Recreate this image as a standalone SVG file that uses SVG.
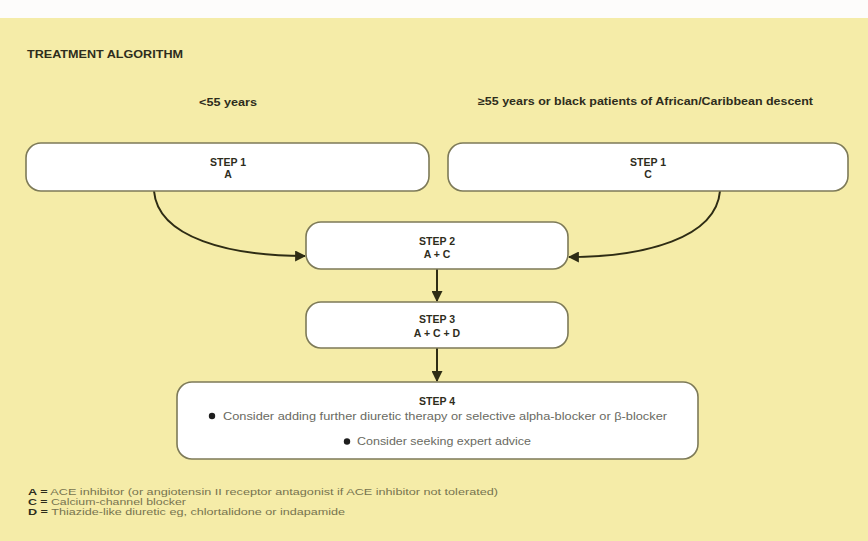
<svg xmlns="http://www.w3.org/2000/svg" width="868" height="541" viewBox="0 0 868 541">
<style>
.box{fill:#ffffff;stroke:#7d7a58;stroke-width:1.6}
.lbl{font-family:"Liberation Sans",Arial,sans-serif;font-weight:bold;font-size:10.5px;fill:#2e2d1c;text-anchor:middle}
.hdr{font-family:"Liberation Sans",Arial,sans-serif;font-weight:bold;font-size:10.5px;fill:#2e2d1c}
.body{font-family:"Liberation Sans",Arial,sans-serif;font-size:10.5px;fill:#6a6a62}
.leg{font-family:"Liberation Sans",Arial,sans-serif;font-size:9px;fill:#77744f}
.legk{font-weight:bold;fill:#2e2d1c}
.conn{fill:none;stroke:#2e2c14;stroke-width:2}
</style>
<defs>
<marker id="ah" viewBox="0 0 10 10" refX="9" refY="5" markerWidth="5.5" markerHeight="5.5" orient="auto" markerUnits="strokeWidth">
<path d="M0,0 L10,5 L0,10 z" fill="#2e2c14"/>
</marker>
</defs>
<rect x="0" y="0" width="868" height="541" fill="#fdfcfb"/>
<rect x="0" y="18" width="868" height="523" fill="#f5eca8"/>
<text class="hdr" x="27" y="58" textLength="156" lengthAdjust="spacingAndGlyphs">TREATMENT ALGORITHM</text>
<text class="hdr" x="199" y="106" textLength="58" lengthAdjust="spacingAndGlyphs">&lt;55 years</text>
<text class="hdr" x="478" y="105" textLength="335" lengthAdjust="spacingAndGlyphs">≥55 years or black patients of African/Caribbean descent</text>
<g id="connectors">
<path class="conn" d="M154,191 C158,238 230,256 305,256" marker-end="url(#ah)"/>
<path class="conn" d="M720,191 C716,238 645,257 569,257" marker-end="url(#ah)"/>
<path class="conn" d="M437,269 L437,301" marker-end="url(#ah)"/>
<path class="conn" d="M437,348 L437,381" marker-end="url(#ah)"/>
</g>
<g id="step1a">
<rect class="box" x="26" y="143" width="403" height="48" rx="15"/>
<text class="lbl" x="228" y="166">STEP 1</text>
<text class="lbl" x="228" y="178">A</text>
</g>
<g id="step1c">
<rect class="box" x="448" y="143" width="400" height="48" rx="15"/>
<text class="lbl" x="648" y="166">STEP 1</text>
<text class="lbl" x="648" y="178">C</text>
</g>
<g id="step2">
<rect class="box" x="306" y="222" width="262" height="47" rx="15"/>
<text class="lbl" x="437" y="245">STEP 2</text>
<text class="lbl" x="437" y="258">A + C</text>
</g>
<g id="step3">
<rect class="box" x="306" y="302" width="262" height="46" rx="15"/>
<text class="lbl" x="437" y="323">STEP 3</text>
<text class="lbl" x="437" y="337">A + C + D</text>
</g>
<g id="step4">
<rect class="box" x="177" y="382" width="521" height="77" rx="15"/>
<text class="lbl" x="437" y="405">STEP 4</text>
<circle cx="212" cy="416" r="3.2" fill="#1e1e1e"/>
<text class="body" x="223" y="419.5" textLength="444" lengthAdjust="spacingAndGlyphs">Consider adding further diuretic therapy or selective alpha-blocker or β-blocker</text>
<circle cx="347" cy="441.5" r="3.2" fill="#1e1e1e"/>
<text class="body" x="357" y="445" textLength="174" lengthAdjust="spacingAndGlyphs">Consider seeking expert advice</text>
</g>
<g id="legend">
<text class="leg" x="28" y="495" textLength="470" lengthAdjust="spacingAndGlyphs"><tspan class="legk">A =</tspan> ACE inhibitor (or angiotensin II receptor antagonist if ACE inhibitor not tolerated)</text>
<text class="leg" x="28" y="505" textLength="158" lengthAdjust="spacingAndGlyphs"><tspan class="legk">C =</tspan> Calcium-channel blocker</text>
<text class="leg" x="28" y="515" textLength="317" lengthAdjust="spacingAndGlyphs"><tspan class="legk">D =</tspan> Thiazide-like diuretic eg, chlortalidone or indapamide</text>
</g>
</svg>
